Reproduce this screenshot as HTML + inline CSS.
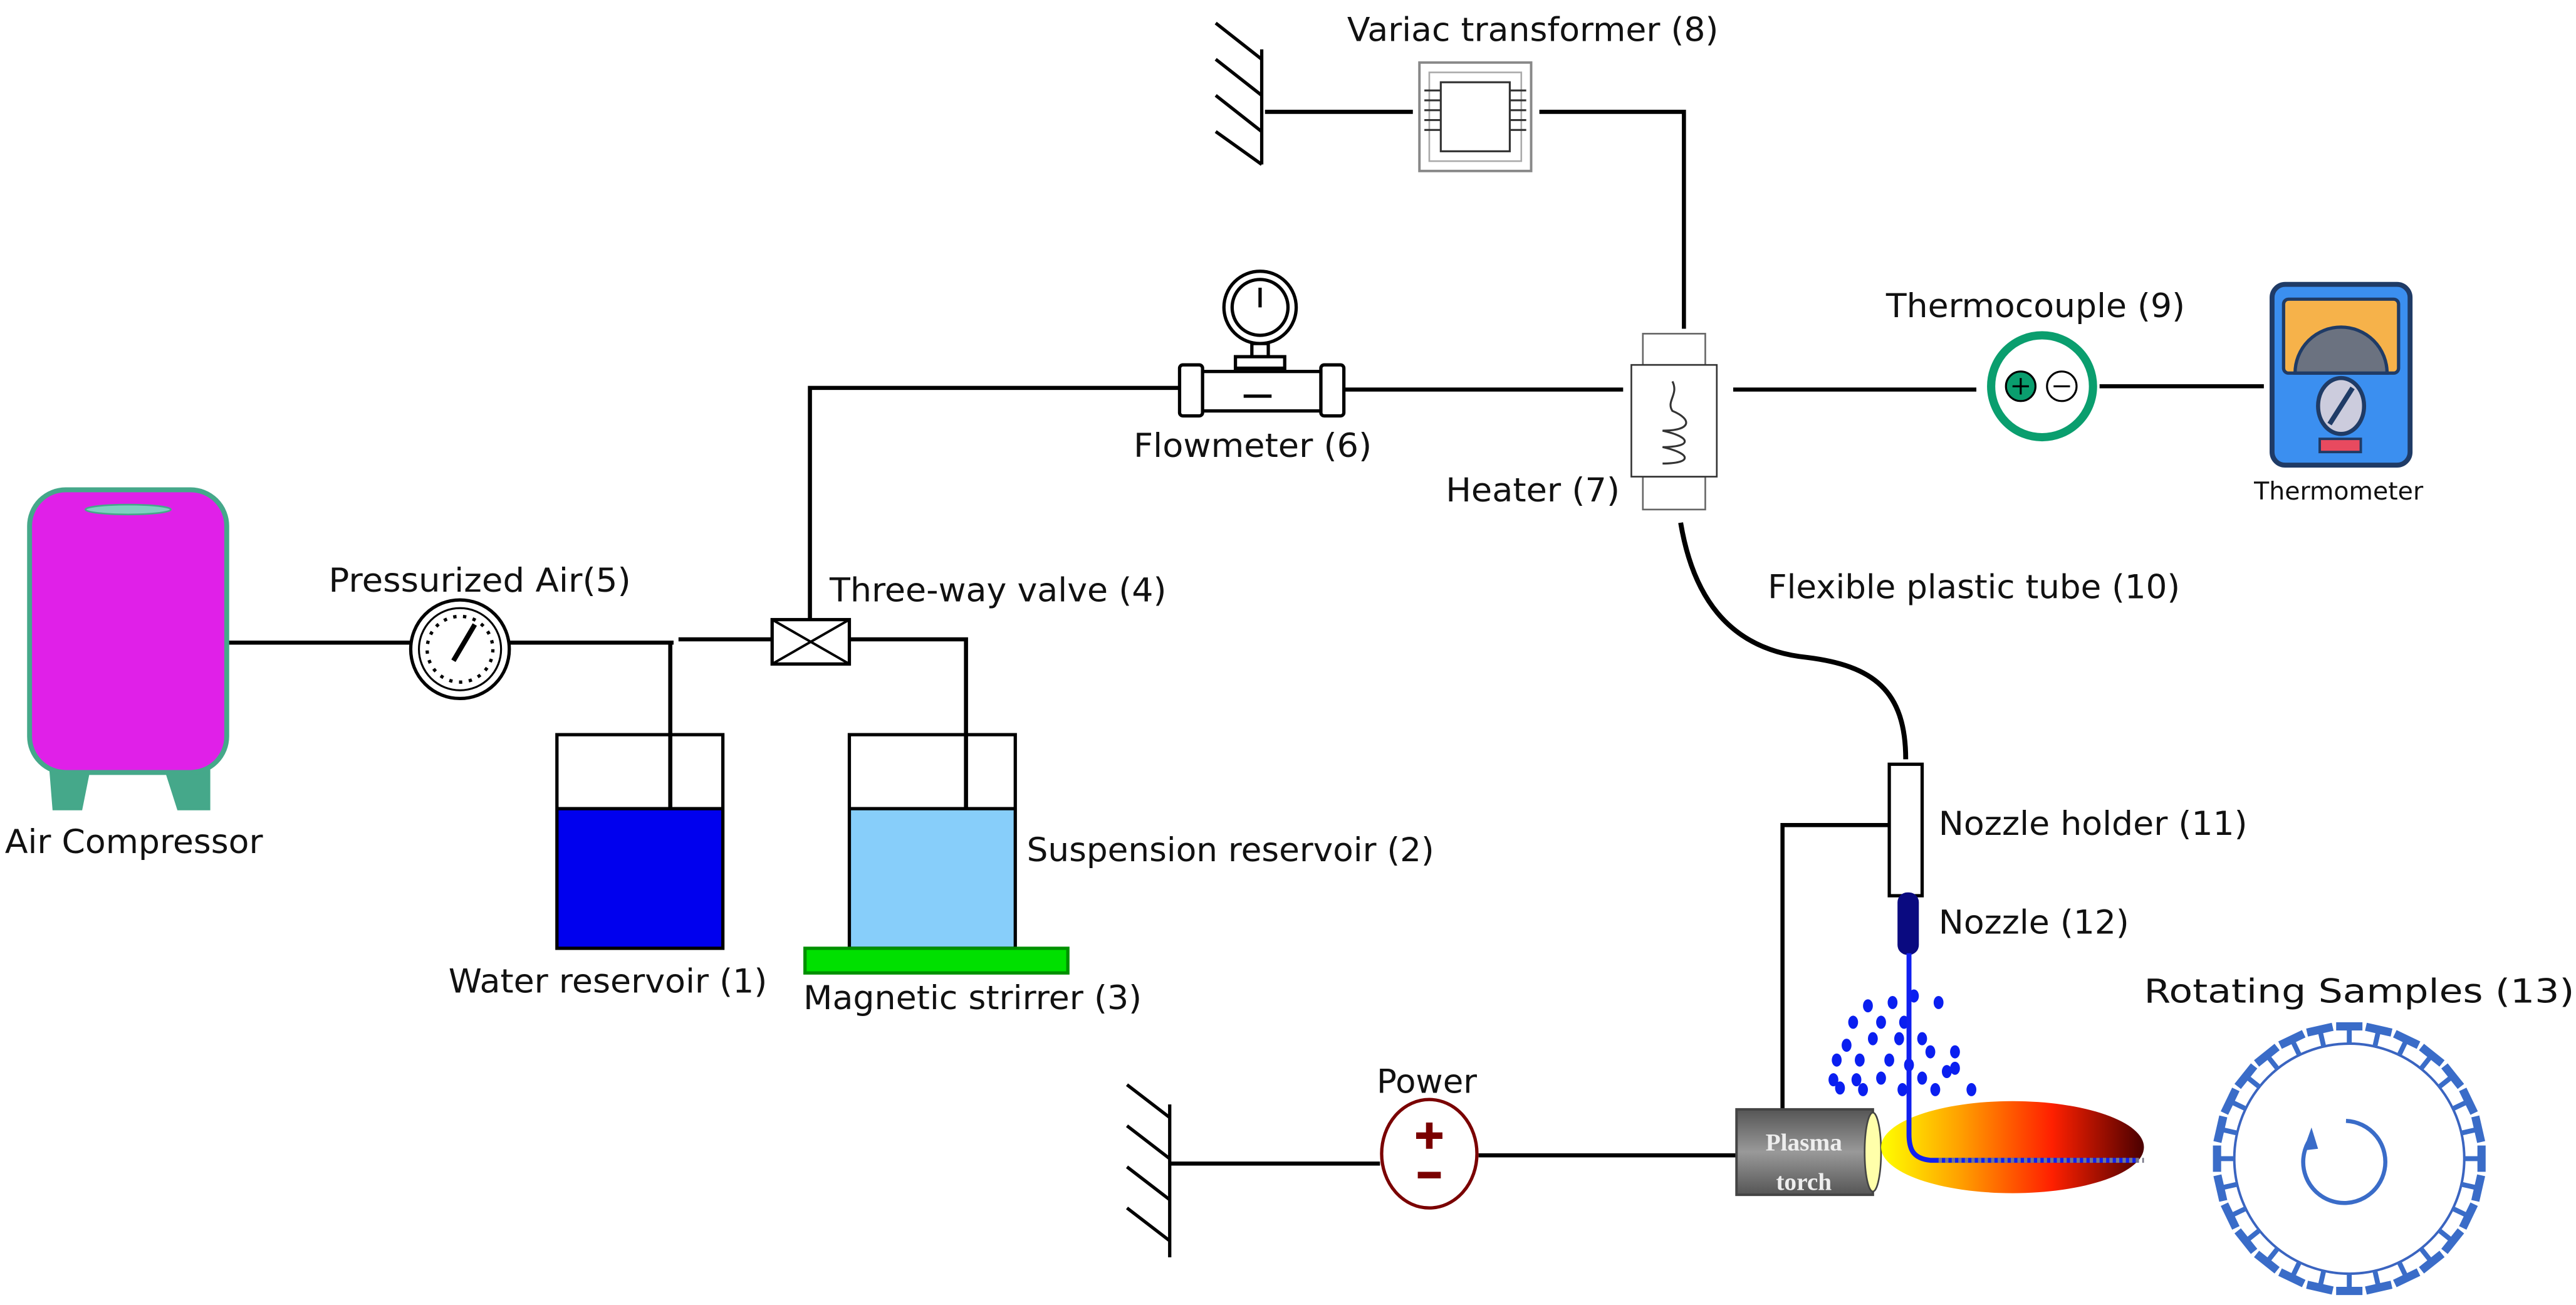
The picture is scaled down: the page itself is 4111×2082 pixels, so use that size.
<!DOCTYPE html>
<html><head><meta charset="utf-8"><style>
html,body{margin:0;padding:0;background:#fff;}
svg{display:block;}
text{font-family:"DejaVu Sans","Liberation Sans",sans-serif;fill:#111;}
</style></head><body>
<svg id="s" width="4111" height="2082" viewBox="0 0 1568 794" xmlns="http://www.w3.org/2000/svg">
<defs>
<linearGradient id="fl" x1="0" x2="1" y1="0" y2="0">
<stop offset="0" stop-color="#ffff00"/><stop offset="0.3" stop-color="#ffa000"/><stop offset="0.65" stop-color="#ff2000"/><stop offset="1" stop-color="#4a0000"/>
</linearGradient>
<linearGradient id="tg" x1="0" x2="0" y1="0" y2="1">
<stop offset="0" stop-color="#555"/><stop offset="0.5" stop-color="#999"/><stop offset="1" stop-color="#555"/>
</linearGradient>
</defs>
<g stroke="#000" stroke-width="2.5" fill="none">
<path d="M138 391 H250 M310 391 H410 M413 389 H470 M517 389 H588 V550 M408 391 V550"/>
<path d="M493 377 V236 H718 M818 237 H988"/>
<path d="M770 68 H860 M937 68 H1025 V200"/>
<path d="M1055 237 H1203 M1278 235 H1378"/>
<path d="M712 708 H840 M900 703 H1057"/>
<path d="M1150 502 H1085 V675"/>
<path d="M1023 318 C1030 360 1050 395 1100 400 C1140 405 1160 420 1160 462" stroke-width="3"/>
</g>
<path d="M30 468 L55 468 L50 493 L32 493Z M100 468 L128 468 L128 493 L108 493Z" fill="#45a88a"/>
<rect x="18" y="298" width="120" height="172" rx="22" fill="#e020e8" stroke="#45a88a" stroke-width="3"/>
<ellipse cx="78" cy="310" rx="26" ry="3" fill="#7fd0c0" stroke="#45a88a"/>
<text x="3" y="519" font-size="20" textLength="157" lengthAdjust="spacingAndGlyphs">Air Compressor</text>
<circle cx="280" cy="395" r="30" fill="#fff" stroke="#000" stroke-width="2"/>
<circle cx="280" cy="395" r="25" fill="none" stroke="#000" stroke-width="1.2"/>
<circle cx="280" cy="395" r="20" fill="none" stroke="#000" stroke-width="2" stroke-dasharray="2 4"/>
<path d="M276 402 L289 380" stroke="#000" stroke-width="3"/>
<text x="200" y="360" font-size="20" textLength="184" lengthAdjust="spacingAndGlyphs">Pressurized Air(5)</text>
<rect x="470" y="377" width="47" height="27" fill="#fff" stroke="#000" stroke-width="2"/>
<path d="M470 377 L517 404 M517 377 L470 404" stroke="#000" stroke-width="1.5"/>
<text x="505" y="366" font-size="20" textLength="205" lengthAdjust="spacingAndGlyphs">Three-way valve (4)</text>
<rect x="339" y="492" width="101" height="85" fill="#0000ee"/>
<rect x="339" y="447" width="101" height="130" fill="none" stroke="#000" stroke-width="2"/>
<line x1="339" y1="492" x2="440" y2="492" stroke="#000" stroke-width="2"/>
<rect x="517" y="492" width="101" height="85" fill="#87cefa"/>
<rect x="517" y="447" width="101" height="130" fill="none" stroke="#000" stroke-width="2"/>
<line x1="517" y1="492" x2="618" y2="492" stroke="#000" stroke-width="2"/>
<rect x="490" y="577" width="160" height="15" fill="#00e000" stroke="#009000" stroke-width="2"/>
<text x="273" y="604" font-size="20" textLength="194" lengthAdjust="spacingAndGlyphs">Water reservoir (1)</text>
<text x="625" y="524" font-size="20" textLength="248" lengthAdjust="spacingAndGlyphs">Suspension reservoir (2)</text>
<text x="489" y="614" font-size="20" textLength="206" lengthAdjust="spacingAndGlyphs">Magnetic strirrer (3)</text>
<g stroke="#000" stroke-width="2" fill="#fff">
<circle cx="767" cy="187" r="22"/><circle cx="767" cy="187" r="17"/>
<rect x="762" y="209" width="10" height="8"/>
<rect x="752" y="217" width="30" height="7"/>
<rect x="718" y="222" width="14" height="31" rx="2"/>
<rect x="804" y="222" width="14" height="31" rx="2"/>
<rect x="732" y="226" width="72" height="24"/>
</g>
<path d="M767 187 V175 M757 241 H774" stroke="#000" stroke-width="2"/>
<text x="690" y="278" font-size="20" textLength="145" lengthAdjust="spacingAndGlyphs">Flowmeter (6)</text>
<g stroke="#666" stroke-width="1" fill="#fff">
<rect x="1000" y="203" width="38" height="19"/>
<rect x="1000" y="290" width="38" height="20"/>
<rect x="993" y="222" width="52" height="68" stroke="#333"/>
</g>
<path d="M1018 232 C1022 240 1014 244 1018 250 C1030 255 1030 262 1012 262 C1030 266 1030 272 1012 272 C1030 276 1030 282 1012 282" stroke="#333" fill="none" stroke-width="1.2"/>
<text x="880" y="305" font-size="20" textLength="106" lengthAdjust="spacingAndGlyphs">Heater (7)</text>
<path d="M768 30 V100 M768 36 L740 14 M768 58 L740 36 M768 80 L740 58 M768 100 L740 80" stroke="#000" stroke-width="2"/>
<rect x="864" y="38" width="68" height="66" fill="#fff" stroke="#888" stroke-width="1.5"/>
<rect x="870" y="44" width="56" height="54" fill="none" stroke="#aaa" stroke-width="1"/>
<rect x="877" y="50" width="42" height="42" fill="#fff" stroke="#333" stroke-width="1.2"/>
<path d="M867 55 h10 M867 61 h10 M867 67 h10 M867 73 h10 M867 79 h10 M919 55 h10 M919 61 h10 M919 67 h10 M919 73 h10 M919 79 h10" stroke="#333" stroke-width="1.2"/>
<text x="820" y="25" font-size="20" textLength="226" lengthAdjust="spacingAndGlyphs">Variac transformer (8)</text>
<circle cx="1243" cy="235" r="31" fill="#fff" stroke="#0a9e6e" stroke-width="5"/>
<circle cx="1230" cy="235" r="9" fill="#0a9e6e" stroke="#000" stroke-width="1.2"/>
<circle cx="1255" cy="235" r="9" fill="#fff" stroke="#000" stroke-width="1.2"/>
<path d="M1225 235 h10 M1230 230 v10 M1250 235 h10" stroke="#000" stroke-width="1.2"/>
<text x="1148" y="193" font-size="20" textLength="182" lengthAdjust="spacingAndGlyphs">Thermocouple (9)</text>
<rect x="1383" y="173" width="84" height="110" rx="8" fill="#3b8ff0" stroke="#1f3b66" stroke-width="3"/>
<rect x="1390" y="182" width="70" height="45" rx="3" fill="#f6b24a" stroke="#1f3b66" stroke-width="2"/>
<path d="M1397 227 A28 28 0 0 1 1453 227 Z" fill="#6b7280" stroke="#1f3b66" stroke-width="2"/>
<ellipse cx="1425" cy="247" rx="14" ry="17" fill="#ccd" stroke="#1f3b66" stroke-width="2.5"/>
<path d="M1418 258 L1432 236" stroke="#1f3b66" stroke-width="3"/>
<rect x="1412" y="267" width="25" height="8" fill="#e84a5f" stroke="#1f3b66" stroke-width="1.5"/>
<text x="1372" y="304" font-size="15" textLength="103" lengthAdjust="spacingAndGlyphs">Thermometer</text>
<text x="1076" y="364" font-size="20" textLength="251" lengthAdjust="spacingAndGlyphs">Flexible plastic tube (10)</text>
<rect x="1150" y="465" width="20" height="80" fill="#fff" stroke="#000" stroke-width="2"/>
<rect x="1155" y="543" width="13" height="38" rx="6" fill="#0a0a80"/>
<text x="1180" y="508" font-size="20" textLength="188" lengthAdjust="spacingAndGlyphs">Nozzle holder (11)</text>
<text x="1180" y="568" font-size="20" textLength="116" lengthAdjust="spacingAndGlyphs">Nozzle (12)</text>
<g id="dots" fill="#0a1ff0"></g>
<rect x="1057" y="675" width="83" height="52" fill="url(#tg)" stroke="#444" stroke-width="1.5"/>
<ellipse cx="1140" cy="701" rx="5" ry="24" fill="#ffffaa" stroke="#444"/>
<ellipse cx="1225" cy="698" rx="80" ry="28" fill="url(#fl)"/>
<text x="1098" y="700" font-size="15" text-anchor="middle" style="font-family:'Liberation Serif',serif;font-weight:bold;fill:#eee">Plasma</text>
<text x="1098" y="724" font-size="15" text-anchor="middle" style="font-family:'Liberation Serif',serif;font-weight:bold;fill:#eee">torch</text>
<path d="M1162 580 V690 C1162 700 1165 705 1175 706 H1300" stroke="#1020f0" stroke-width="3" fill="none"/>
<path d="M1180 706 H1305" stroke="#778" stroke-width="3" stroke-dasharray="2 2" fill="none"/>
<path d="M712 672 V765 M712 680 L686 660 M712 705 L686 685 M712 730 L686 710 M712 755 L686 735" stroke="#000" stroke-width="2"/>
<ellipse cx="870" cy="702" rx="29" ry="33" fill="#fff" stroke="#7a0000" stroke-width="2"/>
<path d="M870 683 v16 M862 691 h16 M863 715 h14" stroke="#7a0000" stroke-width="4"/>
<text x="838" y="665" font-size="20" textLength="61" lengthAdjust="spacingAndGlyphs">Power</text>
<circle cx="1430" cy="705" r="70" fill="none" stroke="#3a64c0" stroke-width="1.5"/>
<g id="ts" fill="#3a6cc8"></g>
<path d="M1428 682 A25 25 0 1 1 1405 695" fill="none" stroke="#3a6cc8" stroke-width="2.5"/>
<path d="M1402 700 L1407 686 L1411 699 Z" fill="#3a6cc8"/>
<text x="1305" y="610" font-size="20" textLength="262" lengthAdjust="spacingAndGlyphs">Rotating Samples (13)</text>
</svg>
<script>
var ns="http://www.w3.org/2000/svg";
var d=[[1137,612],[1128,622],[1145,622],[1159,622],[1124,636],[1140,632],[1156,632],[1170,632],[1118,645],[1132,645],[1150,645],[1162,648],[1175,640],[1116,657],[1130,657],[1145,656],[1170,656],[1185,652],[1134,663],[1158,663],[1178,663],[1190,650],[1200,663],[1120,662],[1152,610],[1180,610],[1165,606],[1190,640]];
var g=document.getElementById("dots");
d.forEach(function(p){var c=document.createElementNS(ns,"ellipse");c.setAttribute("cx",p[0]);c.setAttribute("cy",p[1]);c.setAttribute("rx",3);c.setAttribute("ry",4);g.appendChild(c);});
var t=document.getElementById("ts");
for(var i=0;i<28;i++){var a=i*360/28;var e=document.createElementNS(ns,"g");e.setAttribute("transform","translate(1430 705) rotate("+a+")");
e.innerHTML='<rect x="-1.5" y="-79" width="3" height="9"/><rect x="-8" y="-83" width="16" height="5"/>';t.appendChild(e);}
</script>
</body></html>
